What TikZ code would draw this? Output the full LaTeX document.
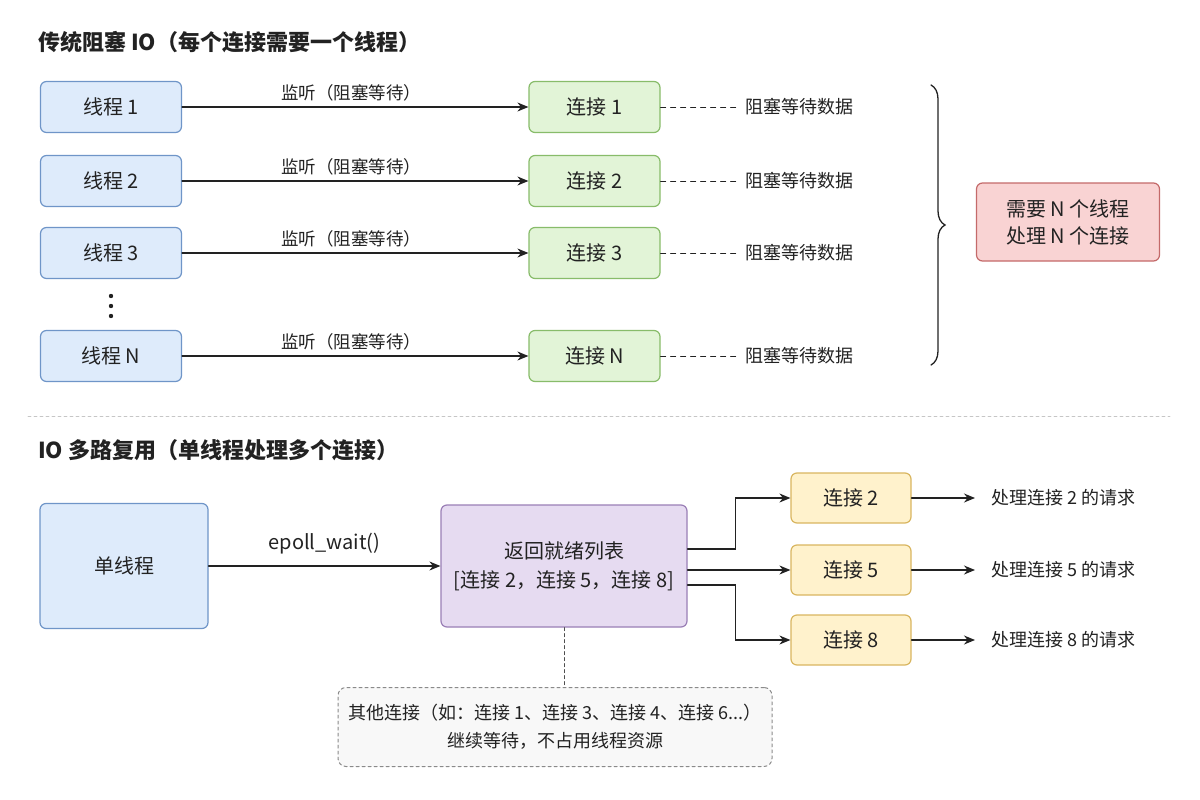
\documentclass[tikz,border=0pt]{standalone}
\usepackage{fontspec}
\setmainfont{Noto Sans CJK SC}
\usetikzlibrary{arrows.meta, decorations.pathreplacing}

\definecolor{blueFill}{HTML}{DEEBFB}
\definecolor{blueLine}{HTML}{6F95C8}
\definecolor{greenFill}{HTML}{E2F4D7}
\definecolor{greenLine}{HTML}{88BC6A}
\definecolor{redFill}{HTML}{F9D3D3}
\definecolor{redLine}{HTML}{C46A6A}
\definecolor{purpleFill}{HTML}{E6DBF1}
\definecolor{purpleLine}{HTML}{9A7FB6}
\definecolor{yellowFill}{HTML}{FFF2CC}
\definecolor{yellowLine}{HTML}{D9B660}
\definecolor{noteFill}{HTML}{F8F8F8}
\definecolor{noteLine}{HTML}{8A8A8A}
\definecolor{ink}{HTML}{222222}

\begin{document}
\begin{tikzpicture}[x=1pt, y=-1pt, >={Stealth[length=11pt, width=9pt]}, line cap=round,
	box/.style={draw, rounded corners=6pt, line width=1.2pt, align=center, text=ink,
		font=\fontsize{20}{28}\selectfont, minimum height=51pt, inner sep=0pt},
	thread/.style={box, fill=blueFill, draw=blueLine, minimum width=141pt},
	conn/.style={box, fill=greenFill, draw=greenLine, minimum width=131pt},
	ready/.style={box, fill=yellowFill, draw=yellowLine, minimum width=120pt, minimum height=50pt},
	link/.style={->, line width=1.3pt, draw=ink},
	note/.style={font=\fontsize{18}{22}\selectfont, text=ink},
	title/.style={anchor=west, font=\fontsize{22}{26}\selectfont\bfseries, text=ink, inner sep=0pt}]
	% -------- Tunables --------
	\def\xth{111}      % centre x of thread boxes
	\def\xcn{594.5}    % centre x of connection boxes
	\def\xrd{851}      % centre x of ready boxes
	
	\useasboundingbox[fill=white] (0,0) rectangle (1200,800);
	
	% -------- Part 1: blocking IO --------
	\node[title] (t1) at (38,42) {传统阻塞 IO（每个连接需要一个线程）};
	
	\foreach \y/\k in {107/1, 181/2, 253/3, 356/N}{
		\node[thread] (th\k) at (\xth,\y) {线程 \k};
		\node[conn] (cn\k) at (\xcn,\y) {连接 \k};
		\node[note, anchor=west] (wt\k) at (742,\y) {阻塞等待数据};
		\draw[link] (th\k) -- (cn\k) node[midway, above=2pt, xshift=-4pt, font=\fontsize{17.5}{20}\selectfont, text=ink] {监听（阻塞等待）};
		\draw[dashed, line width=0.9pt, draw=ink, dash pattern=on 5pt off 5pt, shorten >=6pt] (cn\k) -- (wt\k.west);
	}
	
	% Ellipsis between thread 3 and thread N
	\foreach \y in {296,306,316}
		\fill[ink] (\xth,\y) circle[radius=2.2pt];
	
	% Brace and summary
	\coordinate (bt) at (931,85);
	\coordinate (bb) at (931,365);
	\draw[decorate, decoration={brace, amplitude=14pt}, line width=1.3pt, draw=ink] (bt) -- (bb);
	\node[box, fill=redFill, draw=redLine, minimum width=183pt, minimum height=78pt,
		font=\fontsize{20}{27}\selectfont] (need) at (1068,222) {需要 N 个线程\\处理 N 个连接};
	
	% Separator
	\draw[line width=0.8pt, draw=gray!45, dash pattern=on 3pt off 3pt] (28,416) -- (1170,416);
	
	% -------- Part 2: IO multiplexing --------
	\node[title] (t2) at (38,450) {IO 多路复用（单线程处理多个连接）};
	
	\node[thread, minimum width=168pt, minimum height=125pt] (single) at (124,566) {单线程};
	\node[box, fill=purpleFill, draw=purpleLine, minimum width=246pt, minimum height=122pt,
		font=\fontsize{20}{29}\selectfont] (list) at (564,566) {返回就绪列表\\{[}连接 2，连接 5，连接 8{]}};
	\draw[link] (single) -- (list) node[midway, above=8pt, font=\fontsize{20}{24}\selectfont, text=ink] {epoll\_wait()};
	
	\foreach \y/\k in {498/2, 570/5, 640/8}{
		\node[ready] (rd\k) at (\xrd,\y) {连接 \k};
		\node[note, anchor=west] (do\k) at (988,\y) {处理连接 \k{} 的请求};
		\draw[link, shorten >=13pt] (rd\k) -- (do\k.west);
	}
	
	% Fan-out from the ready list
	\draw[link] ([yshift=17pt]list.east) -- ++(48,0) |- (rd2.west);
	\draw[link] (list.east |- rd5.west) -- (rd5.west);
	\draw[link] ([yshift=-19pt]list.east) -- ++(48,0) |- (rd8.west);
	
	% Connections still waiting
	\node[box, dashed, fill=noteFill, draw=noteLine, line width=1pt, rounded corners=8pt,
		minimum width=434pt, minimum height=79pt, font=\fontsize{18}{28}\selectfont] (idle) at (555,727)
		{其他连接（如：连接 1、连接 3、连接 4、连接 6...）\\继续等待，不占用线程资源};
	\draw[dashed, line width=1pt, draw=ink!80] (list.south) -- (list.south |- idle.north);
	
\end{tikzpicture}
\end{document}
